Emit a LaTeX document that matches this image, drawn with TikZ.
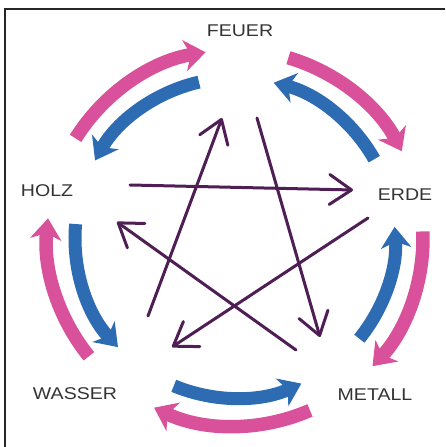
\documentclass[tikz,border=0pt]{standalone}
\usepackage{fontspec}
\setmainfont{Liberation Sans}
\usetikzlibrary{arrows.meta}
\definecolor{pinkc}{HTML}{D9509B}
\definecolor{bluec}{HTML}{2D6BB2}
\definecolor{purplec}{HTML}{4E1E55}
\definecolor{textc}{HTML}{333333}
\begin{document}
\begin{tikzpicture}[x=1pt,y=1pt,
  lbl/.style={text=textc, font=\fontsize{17}{17}\selectfont, inner sep=0pt},
  starline/.style={draw=purplec, line width=3pt, line cap=round,
    -{Straight Barb[length=22pt,width=30pt,line width=3pt,round]}},
  pinkarc/.style={draw=pinkc, line width=13.5pt,
    -{Stealth[length=21pt,width=31pt,inset=6pt]}},
  bluearc/.style={draw=bluec, line width=13pt,
    -{Stealth[length=21pt,width=30pt,inset=6pt]}},
]
\useasboundingbox (0,0) rectangle (445,447);
\draw[line width=1.2pt, black!85] (5,0) -- (5,438) -- (445,438);

% labels
\node[lbl] (feuer)  at (240,416) {\scalebox{1.15}[1]{FEUER}};
\node[lbl] (holz)   at (47,256)  {\scalebox{1.15}[1]{HOLZ}};
\node[lbl] (erde)   at (405,252) {\scalebox{1.15}[1]{ERDE}};
\node[lbl] (wasser) at (75,53)   {\scalebox{1.15}[1]{WASSER}};
\node[lbl] (metall) at (375,52)  {\scalebox{1.15}[1]{METALL}};

% circle centre
\coordinate (C) at (235,209);

% star end points
\coordinate (s1a) at (130,262); \coordinate (s1b) at (353,257);
\coordinate (s2a) at (148,131); \coordinate (s2b) at (222,329);
\coordinate (s3a) at (257,329); \coordinate (s3b) at (320,110);
\coordinate (s4a) at (368,229); \coordinate (s4b) at (172,100);
\coordinate (s5a) at (296,97);  \coordinate (s5b) at (117,225);

\draw[starline] (s1a) -- (s1b);
\draw[starline] (s2a) -- (s2b);
\draw[starline] (s3a) -- (s3b);
\draw[starline] (s4a) -- (s4b);
\draw[starline] (s5a) -- (s5b);

% pink outer arcs (clockwise)
\draw[pinkarc] ([shift={(148:188pt)}]C) arc[start angle=148, end angle=99, radius=188pt];
\draw[pinkarc] ([shift={(73.5:188pt)}]C) arc[start angle=73.5, end angle=27.5, radius=188pt];
\draw[pinkarc] ([shift={(2:188pt)}]C) arc[start angle=2, end angle=-43, radius=188pt];
\draw[pinkarc] ([shift={(-66.5:188pt)}]C) arc[start angle=-66.5, end angle=-115.5, radius=188pt];
\draw[pinkarc] ([shift={(219:188pt)}]C) arc[start angle=219, end angle=174, radius=188pt];

% blue inner arcs (counter-clockwise)
\draw[bluearc] ([shift={(103:160pt)}]C) arc[start angle=103, end angle=151, radius=160pt];
\draw[bluearc] ([shift={(29.5:160pt)}]C) arc[start angle=29.5, end angle=76, radius=160pt];
\draw[bluearc] ([shift={(-39:160pt)}]C) arc[start angle=-39, end angle=4, radius=160pt];
\draw[bluearc] ([shift={(247.5:160pt)}]C) arc[start angle=247.5, end angle=294.5, radius=160pt];
\draw[bluearc] ([shift={(175:160pt)}]C) arc[start angle=175, end angle=223, radius=160pt];
\end{tikzpicture}
\end{document}
